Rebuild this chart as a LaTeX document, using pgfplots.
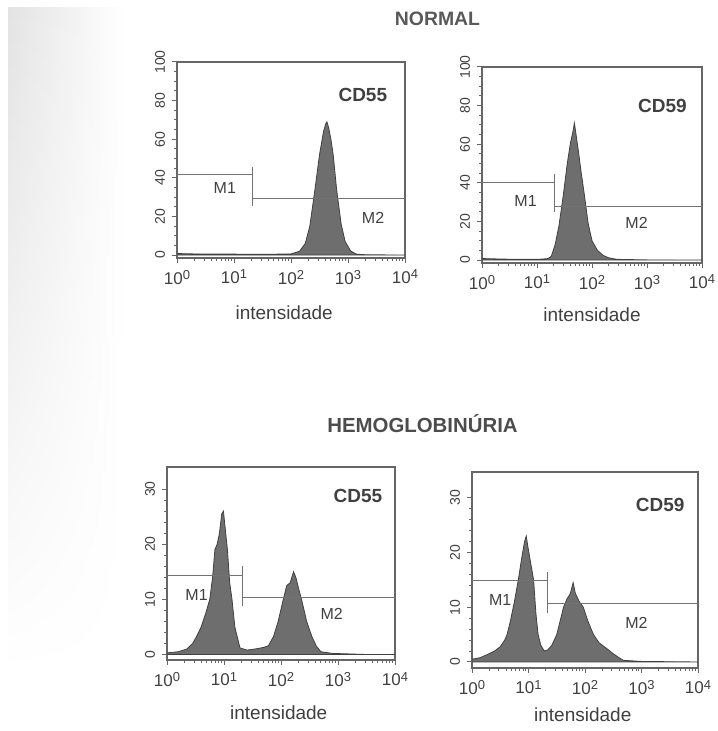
\documentclass[border=0pt]{standalone}
\usepackage{fontspec}
\setmainfont{Liberation Sans}
\usepackage{pgfplots}
\usepackage{pgfplotstable}
\pgfplotsset{compat=1.18}
\usetikzlibrary{fadings}

% histograms: d = log10(intensity), c = counts
\pgfplotstableread{
d c
0.00 0.8
0.30 0.6
0.60 0.5
1.00 0.5
1.40 0.4
1.80 0.5
2.00 0.6
2.15 2
2.25 6
2.33 15
2.42 34
2.50 52
2.57 64
2.61 68
2.63 69
2.66 66
2.70 60
2.74 52
2.80 34
2.88 16
2.95 7
3.05 2
3.15 0.5
3.30 0.2
4.00 0
}\normcdfivefive

\pgfplotstableread{
d c
0.00 0.8
0.40 0.5
0.80 0.4
1.10 0.5
1.20 0.8
1.26 2
1.33 8
1.40 18
1.48 34
1.55 50
1.61 61
1.65 66
1.68 71
1.71 65
1.75 57
1.80 46
1.86 34
1.93 19
2.00 10
2.10 5
2.20 2.5
2.30 1.2
2.45 0.4
3.00 0.1
4.00 0
}\normcdfivenine

\pgfplotstableread{
d c
0.00 0.3
0.20 0.5
0.35 1
0.45 2
0.52 3.3
0.60 5
0.68 7.5
0.75 10
0.80 14
0.84 19
0.88 20
0.92 22
0.96 25.5
0.99 26
1.02 23
1.06 19
1.10 13
1.14 10
1.19 5
1.23 3.3
1.28 1.2
1.40 0.8
1.55 1
1.70 1.3
1.78 1.6
1.87 3.3
1.95 6
2.04 10
2.10 12.5
2.16 13
2.22 15
2.26 14
2.32 11.5
2.36 10
2.45 6
2.54 3.3
2.62 1.5
2.70 0.5
2.90 0.2
3.50 0
4.00 0
}\hpncdfivefive

\pgfplotstableread{
d c
0.00 0.5
0.15 0.8
0.30 1.5
0.40 2.0
0.50 2.8
0.58 4
0.62 5
0.68 7.5
0.75 11
0.82 15
0.88 19
0.93 22
0.96 23
0.99 21
1.04 18
1.09 15
1.13 9
1.17 5
1.22 3
1.28 2
1.34 2.2
1.41 3
1.50 5
1.56 7.5
1.62 10
1.68 11.5
1.74 12.5
1.79 14.5
1.83 12.5
1.90 11
1.97 10
2.05 7.5
2.15 5
2.25 3.5
2.38 2.5
2.50 1.5
2.60 0.8
2.68 0.3
3.00 0.1
4.00 0
}\hpncdfivenine

\colorlet{ink}{black!75}
\newcommand{\dec}[1]{10\raisebox{0.55ex}{\fontsize{6.5}{7}\selectfont #1}}
\tikzset{
  mlbl/.style={font=\fontsize{8}{9}\selectfont, text=ink},
  cdlbl/.style={font=\fontsize{9.5}{10}\selectfont\bfseries, text=ink},
}
\pgfplotsset{
  facsaxis/.style={
    scale only axis, anchor=south west,
    xmin=1, xmax=10000,
    xtick={1,10,100,1000,10000},
    xticklabels={\dec{0},\dec{1},\dec{2},\dec{3},\dec{4}},
    minor xtick={2,3,4,5,6,7,8,9,20,30,40,50,60,70,80,90,200,300,400,500,600,700,800,900,2000,3000,4000,5000,6000,7000,8000,9000},
    xtick pos=bottom, ytick pos=left, tick align=outside,
    major tick length=2.5pt, minor tick length=1.3pt,
    axis line style={black!60, line width=0.6pt},
    tick style={black!60, line width=0.5pt},
    /pgf/number format/assume math mode=true,
    yticklabel style={rotate=90, anchor=south, font=\fontsize{7}{8}\selectfont, text=ink},
    xticklabel style={font=\fontsize{8.5}{9}\selectfont, text=ink},
    xlabel={intensidade},
    xlabel style={font=\fontsize{9.5}{10}\selectfont, text=ink, anchor=center},
  },
  histfill/.style={fill=black!57, draw=black!75, line width=0.4pt},
  gateline/.style={black!55, line width=0.5pt, forget plot},
}

\begin{document}
\begin{tikzpicture}
\path[use as bounding box] (0,0) rectangle (358.5pt,365.5pt);
\shade[left color=black!11, right color=white, path fading=south] (4pt,30pt) rectangle (62pt,362pt);

\node[font=\fontsize{9.7}{10}\selectfont\bfseries, text=black!65] at (218.75pt,356pt) {NORMAL};
\node[font=\fontsize{10.2}{11}\selectfont\bfseries, text=black!70] at (211.25pt,153.5pt) {HEMOGLOBINÚRIA};

% normal, CD55
\begin{semilogxaxis}[facsaxis, at={(88.5pt,236.5pt)}, width=114pt, height=98pt,
  ymin=-1.5, ymax=100, ytick={0,20,...,100}, minor y tick num=3,
  xlabel style={at={(axis description cs:0.47,-0.28)}}]
\addplot[histfill] table[x expr={10^\thisrow{d}}, y=c] {\normcdfivefive} \closedcycle;
\addplot[gateline] coordinates {(1,41.6) (21.4,41.6)};
\addplot[gateline] coordinates {(21.4,25.4) (21.4,45.7)};
\addplot[gateline] coordinates {(21.4,29.4) (10000,29.4)};
\node[mlbl] at (axis cs:6.9,34.5) {M1};
\node[mlbl] at (axis cs:2750,19.3) {M2};
\node[cdlbl] at (axis cs:1820,83) {CD55};
\end{semilogxaxis}

% normal, CD59
\begin{semilogxaxis}[facsaxis, at={(241pt,234pt)}, width=110pt, height=98pt,
  ymin=-1.5, ymax=100, ytick={0,20,...,100}, minor y tick num=3,
  xlabel style={at={(axis description cs:0.5,-0.264)}}]
\addplot[histfill] table[x expr={10^\thisrow{d}}, y=c] {\normcdfivenine} \closedcycle;
\addplot[gateline] coordinates {(1,40) (20.9,40)};
\addplot[gateline] coordinates {(20.9,24.8) (20.9,44.5)};
\addplot[gateline] coordinates {(20.9,28) (10000,28)};
\node[mlbl] at (axis cs:6.2,30.7) {M1};
\node[mlbl] at (axis cs:646,19.5) {M2};
\node[cdlbl] at (axis cs:1905,80) {CD59};
\end{semilogxaxis}

% PNH, CD55
\begin{semilogxaxis}[facsaxis, at={(83.5pt,35.5pt)}, width=114pt, height=96.5pt,
  ymin=-1, ymax=34, ytick={0,10,20,30}, minor y tick num=4,
  xlabel style={at={(axis description cs:0.49,-0.275)}}]
\addplot[histfill] table[x expr={10^\thisrow{d}}, y=c] {\hpncdfivefive} \closedcycle;
\addplot[gateline] coordinates {(1,14.4) (21.4,14.4)};
\addplot[gateline] coordinates {(21.4,8.8) (21.4,16)};
\addplot[gateline] coordinates {(21.4,10.4) (10000,10.4)};
\node[mlbl] at (axis cs:3.3,10.7) {M1};
\node[mlbl] at (axis cs:776,7.3) {M2};
\node[cdlbl] at (axis cs:2240,28.8) {CD55};
\end{semilogxaxis}

% PNH, CD59
\begin{semilogxaxis}[facsaxis, at={(236pt,31.5pt)}, width=113pt, height=98pt,
  ymin=-1.1, ymax=34.7, ytick={0,10,20,30}, minor y tick num=4,
  xlabel style={at={(axis description cs:0.49,-0.24)}}]
\addplot[histfill] table[x expr={10^\thisrow{d}}, y=c] {\hpncdfivenine} \closedcycle;
\addplot[gateline] coordinates {(1,14.8) (21.9,14.8)};
\addplot[gateline] coordinates {(21.9,8.9) (21.9,16.5)};
\addplot[gateline] coordinates {(21.9,10.6) (10000,10.6)};
\node[mlbl] at (axis cs:3.16,11.3) {M1};
\node[mlbl] at (axis cs:813,7.2) {M2};
\node[cdlbl] at (axis cs:2140,28.7) {CD59};
\end{semilogxaxis}
\end{tikzpicture}
\end{document}
